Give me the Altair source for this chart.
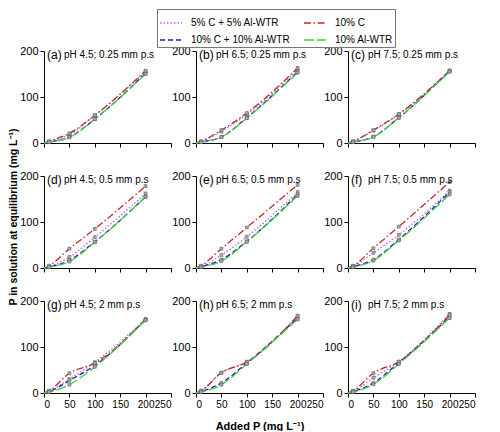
import altair as alt
import pandas as pd

F = "Liberation Sans"

# ---- data ----
added_p = [0, 10, 50, 100, 200]
# order chosen so the 2-column legend reads like the reference
series_names = ["5% C + 5% Al-WTR", "10% C + 10% Al-WTR", "10% C", "10% Al-WTR"]
series_colors = ["#C45BF0", "#1C1CA8", "#C0282A", "#3FD23F"]
series_dashes = [[1.5, 2], [5, 3], [7, 2.5, 1.5, 2.5], [10, 3]]

panel_ids = ["a", "b", "c", "d", "e", "f", "g", "h", "i"]
panel_letters = ["(a)", "(b)", "(c)", "(d)", "(e)", "(f)", "(g)", "(h)", "(i)"]
panel_subtitles = [
    "pH 4.5; 0.25 mm p.s", "pH 6.5; 0.25 mm p.s", "pH 7.5; 0.25 mm p.s",
    "pH 4.5; 0.5 mm p.s", "pH 6.5; 0.5 mm p.s", "pH 7.5; 0.5 mm p.s",
    "pH 4.5; 2 mm p.s", "pH 6.5; 2 mm p.s", "pH 7.5; 2 mm p.s",
]

# equilibrium P per panel; series order as series_names
p_a = [[0, 3, 18, 60, 155], [0, 2, 13, 52, 152], [0, 4, 21, 60, 157], [0, 2, 12, 52, 150]]
p_b = [[0, 3, 25, 62, 160], [0, 2, 13, 55, 155], [0, 4, 28, 65, 163], [0, 2, 13, 54, 153]]
p_c = [[0, 3, 27, 62, 157], [0, 2, 14, 55, 157], [0, 4, 28, 63, 157], [0, 2, 13, 55, 155]]
p_d = [[0, 3, 24, 67, 162], [0, 2, 17, 57, 155], [0, 5, 42, 85, 178], [0, 2, 14, 56, 155]]
p_e = [[0, 3, 28, 68, 165], [0, 3, 18, 58, 160], [0, 5, 42, 88, 181], [0, 2, 15, 57, 157]]
p_f = [[0, 4, 33, 72, 168], [0, 3, 18, 62, 165], [0, 5, 43, 90, 187], [0, 2, 16, 60, 160]]
p_g = [[0, 4, 30, 67, 160], [0, 3, 27, 60, 160], [0, 5, 43, 65, 160], [0, 2, 18, 57, 158]]
p_h = [[0, 5, 44, 68, 167], [0, 3, 22, 65, 163], [0, 5, 44, 67, 168], [0, 2, 18, 63, 160]]
p_i = [[0, 4, 33, 68, 172], [0, 3, 22, 66, 165], [0, 5, 43, 68, 170], [0, 2, 19, 63, 163]]
panel_values = [p_a, p_b, p_c, p_d, p_e, p_f, p_g, p_h, p_i]

# standard error bars per added-P level
err_by_x = [0, 1.5, 2, 3, 4]

rows = []
for pid, vals in zip(panel_ids, panel_values):
    for s, ys in zip(series_names, vals):
        for x, y, e in zip(added_p, ys, err_by_x):
            rows.append({"panel": pid, "series": s, "x": x, "y": y,
                         "lo": y - e, "hi": y + e})
df = pd.DataFrame(rows)

legend_def = alt.Legend(
    title=None, orient="none", legendX=148, legendY=-42, columns=2,
    symbolType="stroke", symbolSize=480, symbolStrokeWidth=1.5,
    labelFont=F, labelFontSize=10, labelColor="black",
    columnPadding=10, rowPadding=0, padding=2,
    strokeColor="#777", fillColor="white", labelOffset=8,
)

W, H = 127, 92


def panel(i):
    pid = panel_ids[i]
    r = i // 3
    d = df[df.panel == pid]
    xtitle = "Added P (mg L\u207b\u00b9)" if pid == "h" else None
    xax = alt.Axis(values=[0, 50, 100, 150, 200, 250], labels=(r == 2), labelFontSize=10,
                   title=xtitle, titleFont=F, titleFontSize=11,
                   titleFontWeight="bold", titlePadding=11)
    x = alt.X("x:Q", scale=alt.Scale(domain=[0, 250], nice=False, zero=False), axis=xax)
    y = alt.Y("y:Q", scale=alt.Scale(domain=[0, 200], nice=False),
              axis=alt.Axis(values=[0, 50, 100, 150, 200], title=None))
    base = alt.Chart(d)
    lines = base.mark_line(interpolate="monotone", strokeWidth=1.3).encode(
        x=x, y=y,
        color=alt.Color("series:N", scale=alt.Scale(domain=series_names, range=series_colors),
                        legend=legend_def),
        strokeDash=alt.StrokeDash("series:N", scale=alt.Scale(domain=series_names, range=series_dashes),
                                  legend=legend_def),
    )
    pts_base = base.transform_filter("datum.x > 0")
    errs = pts_base.mark_rule(color="#555", strokeWidth=0.8).encode(
        x=x, y=alt.Y("lo:Q"), y2="hi:Q")
    pts = pts_base.mark_point(shape="square", filled=True, size=9, color="#aaaaaa",
                              stroke="#555", strokeWidth=0.5, opacity=1).encode(x=x, y=y)
    lab = alt.Chart(pd.DataFrame({"t": [panel_letters[i]]})).mark_text(
        align="left", baseline="middle", font=F, fontSize=12, color="black"
    ).encode(x=alt.value(3), y=alt.value(4), text="t:N")
    sub = alt.Chart(pd.DataFrame({"t": [panel_subtitles[i]]})).mark_text(
        align="left", baseline="middle", font=F, fontSize=10, color="black"
    ).encode(x=alt.value(20), y=alt.value(4), text="t:N")
    return alt.layer(lines, errs, pts, lab, sub).properties(width=W, height=H)


grid = alt.concat(
    *[panel(i) for i in range(9)], columns=3, bounds="flush",
    spacing={"row": 33, "column": 25},
)

ytitle = alt.Chart(pd.DataFrame({"t": ["P in solution at equilibrium (mg L\u207b\u00b9)"]})).mark_text(
    angle=270, font=F, fontSize=10.5, fontWeight="bold", color="black", baseline="middle"
).encode(x=alt.value(5), y=alt.value(166), text="t:N").properties(width=5, height=342)

chart = alt.hconcat(ytitle, grid, spacing=-1).configure_view(stroke=None).configure_axis(
    domainColor="black", tickColor="black", labelColor="black", labelFont=F,
    labelFontSize=11, tickSize=4, grid=False, labelPadding=2, domainWidth=1,
    labelOverlap=False,
).properties(background="white", padding=0)

chart.save("out.html", embed_options={"renderer": "svg", "actions": False})
